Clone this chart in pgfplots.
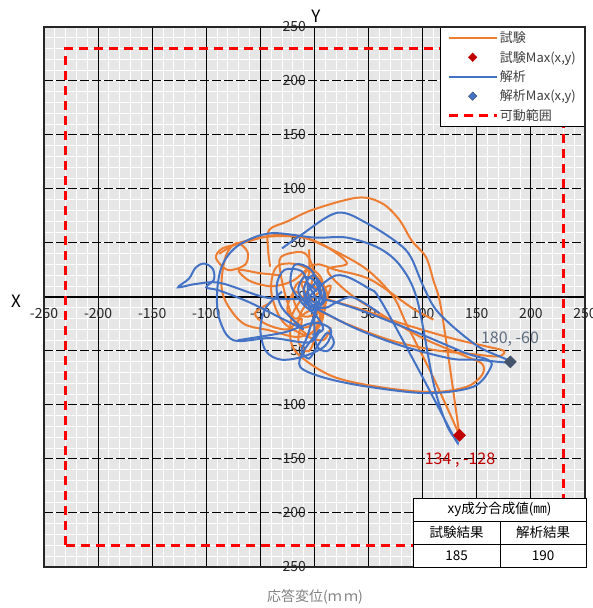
\documentclass[border=0pt]{standalone}
\usepackage{pgfplots}
\pgfplotsset{compat=1.18}
\usepackage{fontspec}
\setmainfont{Noto Sans CJK JP}
\definecolor{gOrange}{RGB}{237,125,49}
\definecolor{gBlue}{RGB}{68,114,196}
\definecolor{gRed}{RGB}{192,0,0}
\definecolor{gSlate}{RGB}{68,84,106}
\definecolor{gSlateText}{RGB}{96,110,130}
\definecolor{bgGray}{RGB}{230,230,230}
\begin{document}
\begin{tikzpicture}[x=1pt,y=1pt]
\useasboundingbox (0,0) rectangle (593,608);
\begin{axis}[
  at={(44pt,41pt)}, anchor=south west,
  scale only axis, width=541pt, height=540pt,
  xmin=-250, xmax=250, ymin=-250, ymax=250,
  enlargelimits=false,
  axis lines=middle,
  axis line style={-, black, line width=1.4pt},
  axis background/.style={fill=bgGray},
  xtick={-250,-240,...,250}, ytick={-250,-240,...,250},
  xticklabel={\relax}, yticklabel={\relax},
  major tick length=0pt, minor tick length=0pt,
  grid=major,
  major grid style={white, line width=1pt},
  extra x ticks={-250,-200,...,250},
  extra y ticks={-250,-200,...,250},
  extra x tick style={grid=major, major grid style={black, line width=1pt},
    xticklabel={\pgfmathprintnumber{\tick}},
    xticklabel style={yshift=-8pt}},
  extra y tick style={grid=major, major grid style={black, line width=1pt, dash pattern=on 9pt off 3pt},
    yticklabel={\pgfmathprintnumber{\tick}},
    yticklabel style={xshift=-5pt}},
  hide obscured x ticks=false, hide obscured y ticks=false,
  /pgf/number format/assume math mode=true,
  tick label style={font=\fontsize{14}{16}\selectfont, text=black!85},
  legend style={at={(1,1)}, anchor=north east, draw=black, fill=white,
    font=\fontsize{13}{14}\selectfont, text=black!75, row sep=3pt,
    inner xsep=7pt, inner ysep=2.5pt},
  legend cell align=left,
  legend image code/.code={\draw[mark repeat=2,mark phase=2,#1] plot coordinates {(0pt,0pt) (24pt,0pt) (48pt,0pt)};},
  opl/.style={gOrange, line width=2pt, smooth, tension=0.55, forget plot},
  bpl/.style={gBlue, line width=2pt, smooth, tension=0.55, forget plot},
]
% movable range
\addplot[red, line width=2.6pt, dash pattern=on 9pt off 6pt, forget plot] coordinates {(-230,-230) (-230,230) (230,230) (230,-230) (-230,-230)};
% test (orange)
\addplot[opl] coordinates {(-41,28) (-43,45) (-42,62) (-25,70) (-1,81) (40,92) (62,87) (78,72) (90,52) (103,37) (110,15) (116,-5) (123,-50) (134,-128)};
\addplot[opl] coordinates {(134,-128) (110,-75) (85,-25) (73,0) (49,25) (18,43) (-13,56) (-40,57) (-66,50) (-85,45) (-91,36) (-80,25) (-64,30) (-62,42) (-72,50) (-82,38) (-86,10) (-80,-8) (-65,-25) (-41,-31) (-16,-37) (2,-30) (8,-15) (-3,-2) (-12,12) (-5,26) (6,18) (10,0)};
\addplot[opl] coordinates {(10,0) (15,-3) (45,-12) (79,-24) (126,-38) (160,-46) (175,-50) (170,-55) (147,-53) (110,-49) (70,-40) (30,-25) (0,-12) (-18,-20) (-25,-5) (-31,20) (-31,37) (-10,41) (-1,25) (-4,8)};
\addplot[opl] coordinates {(-4,8) (-20,-15) (-22,-40) (-13,-55) (18,-74) (64,-84) (110,-88) (141,-83) (155,-72) (155,-62) (140,-55) (100,-38) (60,-15) (30,5) (12,25) (30,31) (12,46) (-10,55) (-41,56) (-70,50) (-88,40)};
\addplot[opl] coordinates {(-5,44) (-5,22) (-10,5) (0,-5) (5,-20) (-5,-35) (-15,-25) (-10,-10) (5,5) (15,10) (8,-10) (-2,-45) (-8,-50) (-15,-40) (-12,-20) (-25,-30) (-45,-25) (-55,-15) (-40,-5)};
\addplot[opl] coordinates {(-30,20) (-50,22) (-70,25) (-60,15) (-40,10) (-20,15) (0,30) (20,25) (52,16) (90,-10) (110,-21)};
\addplot[opl] coordinates {(-8,-5) (-18,5) (-25,-12) (-12,-28) (4,-22) (10,-8) (2,8) (-14,14) (-20,0) (-10,-18) (6,-12) (12,2) (3,18) (-15,30) (-35,28) (-40,5) (-30,-22) (-10,-35) (8,-40) (15,-28)};
% analysis (blue)
\addplot[bpl] coordinates {(-30,45) (-13,57) (21,78) (49,68) (77,50) (89,37) (101,9) (115,-15) (150,-45) (181,-60) (150,-58) (126,-57) (80,-45) (40,-30) (10,-15) (-10,-5)};
\addplot[bpl] coordinates {(-10,-5) (20,20) (50,8) (61,-3) (95,-65) (128,-128) (132,-134) (122,-118) (110,-80) (95,-3) (80,28) (60,45) (30,55) (0,55) (-41,59) (-70,48) (-85,30) (-90,5) (-88,-20) (-75,-40) (-40,-38) (-5,-42) (5,-30)};
\addplot[bpl] coordinates {(5,-30) (-10,-50) (-13,-65) (10,-75) (49,-83) (104,-89) (147,-83) (163,-65) (160,-58) (140,-52) (95,-33) (50,-15) (20,-5) (0,0)};
\addplot[bpl] coordinates {(0,0) (-20,-2) (-47,0) (-87,13) (-110,12) (-126,9) (-116,17) (-110,27) (-102,31) (-94,26) (-93,16) (-100,9) (-88,6) (-60,-5) (-30,-20) (-10,-30)};
\addplot[bpl] coordinates {(-10,-30) (-30,-10) (-35,10) (-28,25) (-12,24) (-5,10) (2,-5) (-3,-25) (-8,-40) (-12,-50) (-5,-57) (3,-45) (12,-33) (18,-42) (12,-50) (2,-45) (0,-20) (5,0) (0,15) (-10,18) (-15,5) (-5,-8) (10,-10) (20,-5) (33,0) (45,-5) (60,-15)};
\addplot[bpl] coordinates {(-71,-40) (-29,-33) (-1,-24) (15,-30) (10,-45) (-10,-55) (-31,-58) (-45,-50) (-50,-30) (-45,-10) (-30,5)};
\addplot[bpl] coordinates {(2,5) (-6,12) (-4,-2) (6,-6) (8,8) (-2,20) (-10,6) (-2,-12) (10,-2) (4,14) (-8,2) (0,-8) (6,4) (-3,25) (-18,30) (-22,12) (-12,-5) (2,-18) (8,-30) (-2,-35)};
% max points
\addplot[only marks, mark=square*, mark options={rotate=45}, mark size=4.3pt, gRed, forget plot] coordinates {(134,-128)};
\addplot[only marks, mark=square*, mark options={rotate=45}, mark size=4.3pt, gSlate, forget plot] coordinates {(181,-60)};
% legend
\addlegendimage{gOrange, line width=1.8pt}
\addlegendentry{試験}
\addlegendimage{only marks, mark=square*, mark options={rotate=45}, mark size=3pt, gRed}
\addlegendentry{試験Max(x,y)}
\addlegendimage{gBlue, line width=1.8pt}
\addlegendentry{解析}
\addlegendimage{only marks, mark=square*, mark size=3pt, gBlue, mark options={rotate=45, draw=gSlate}}
\addlegendentry{解析Max(x,y)}
\addlegendimage{red, line width=2.6pt, dash pattern=on 9pt off 6pt}
\addlegendentry{可動範囲}
\end{axis}
% frame
\draw[black!85, line width=1.4pt] (44,41) rectangle (585,581);
% table
\fill[white] (413,41) rectangle (586,110);
\draw[black, line width=0.9pt] (413,41) rectangle (586,110);
\draw[black, line width=0.9pt] (413,87) -- (586,87);
\draw[black, line width=0.9pt] (413,64) -- (586,64);
\draw[black, line width=0.9pt] (500,41) -- (500,87);
\node[font=\fontsize{13.5}{15}\selectfont] at (499.5,98.5) {xy成分合成値(㎜)};
\node[font=\fontsize{13.5}{15}\selectfont] at (456.5,75.5) {試験結果};
\node[font=\fontsize{13.5}{15}\selectfont] at (543,75.5) {解析結果};
\node[font=\fontsize{13.5}{15}\selectfont] at (456.5,52.5) {185};
\node[font=\fontsize{13.5}{15}\selectfont] at (543,52.5) {190};
% labels
\node[font=\fontsize{17}{18}\selectfont] at (16,307) {X};
\node[font=\fontsize{17}{18}\selectfont] at (316,592) {Y};
\node[font=\fontsize{14}{15}\selectfont, text=black!50] at (315,11) {応答変位(ｍ\,ｍ)};
\node[font=\fontsize{16}{17}\selectfont, text=gSlateText] at (510,269) {180, -60};
\node[font=\fontsize{16}{17}\selectfont, text=gRed] at (460,148) {134 , -128};
\end{tikzpicture}
\end{document}
